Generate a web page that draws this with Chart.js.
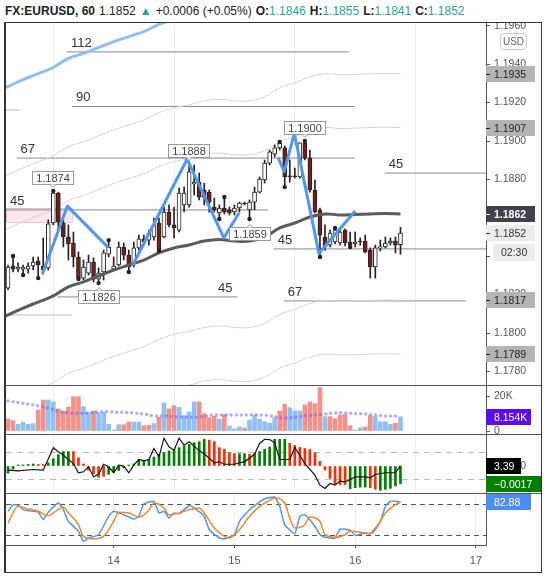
<!DOCTYPE html>
<html>
<head>
<meta charset="utf-8">
<title>FX:EURUSD, 60</title>
<script src="https://cdn.jsdelivr.net/npm/chart.js@4.4.1/dist/chart.umd.min.js"></script>
<style>
  html, body { margin: 0; padding: 0; background: #fff; }
  body { width: 547px; height: 576px; position: relative; overflow: hidden; font-family: "Liberation Sans", Arial, sans-serif; }
  #hdr { position: absolute; left: 5px; top: 3px; font-size: 12px; line-height: 16px; color: #222; white-space: nowrap; }
  #hdr .v { color: #26a69a; }
  #hdr span { margin-left: 4px; }
  #hdr b + span.v, #hdr span.v.n { margin-left: 0; }
  .pane { position: absolute; left: 6px; width: 535px; }
  .sep { position: absolute; left: 5px; width: 537px; height: 1px; background: #555; }
  #frame { position: absolute; left: 4px; top: 22px; width: 538px; height: 551px; box-sizing: border-box; border: 1px solid #333; border-left-width: 2px; pointer-events: none; }
</style>
</head>
<body>
<div id="hdr"></div>
<div class="pane" style="top:22px;height:363px"><canvas id="price"></canvas></div>
<div class="pane" style="top:385px;height:49px"><canvas id="volume"></canvas></div>
<div class="pane" style="top:434px;height:59px"><canvas id="macd"></canvas></div>
<div class="pane" style="top:493px;height:79px"><canvas id="stoch"></canvas></div>
<div class="sep" style="top:385px"></div>
<div class="sep" style="top:434px"></div>
<div class="sep" style="top:493px"></div>
<div id="frame"></div>

<script>
// ── Data ────────────────────────────────────────────────────
// bar index: 0 = 00:00 on the 14th, one bar per hour
const symbol = 'FX:EURUSD';
const interval = '60';
const firstBar = -21;

const opens = [
  1.18234, 1.18349, 1.18333, 1.18333, 1.18333, 1.18349, 1.18375, 1.18349, 1.18339, 1.18573,
  1.18729, 1.18573, 1.18500, 1.18469, 1.18396, 1.18286, 1.18312, 1.18370, 1.18281, 1.18318,
  1.18411, 1.18333, 1.18354, 1.18448, 1.18406, 1.18365, 1.18443, 1.18490, 1.18484, 1.18500,
  1.18573, 1.18500, 1.18630, 1.18563, 1.18536, 1.18667, 1.18667, 1.18776, 1.18786, 1.18745,
  1.18734, 1.18656, 1.18625, 1.18651, 1.18641, 1.18630, 1.18651, 1.18677, 1.18641, 1.18682,
  1.18734, 1.18797, 1.18885, 1.18932, 1.18964, 1.18964, 1.18818, 1.18818, 1.18813, 1.18990,
  1.18911, 1.18745, 1.18641, 1.18500, 1.18458, 1.18474, 1.18469, 1.18536, 1.18474, 1.18464,
  1.18479, 1.18479, 1.18432, 1.18344, 1.18443, 1.18448, 1.18469, 1.18479, 1.18460
];
const highs = [
  1.18354, 1.18401, 1.18365, 1.18354, 1.18365, 1.18396, 1.18396, 1.18495, 1.18589, 1.18740,
  1.18734, 1.18589, 1.18563, 1.18526, 1.18422, 1.18380, 1.18406, 1.18391, 1.18339, 1.18432,
  1.18484, 1.18396, 1.18474, 1.18469, 1.18432, 1.18474, 1.18510, 1.18510, 1.18536, 1.18599,
  1.18599, 1.18656, 1.18667, 1.18656, 1.18755, 1.18760, 1.18885, 1.18875, 1.18833, 1.18781,
  1.18745, 1.18703, 1.18667, 1.18708, 1.18656, 1.18667, 1.18682, 1.18682, 1.18693, 1.18760,
  1.18813, 1.18901, 1.18953, 1.18979, 1.18995, 1.18974, 1.18901, 1.18859, 1.18990, 1.19000,
  1.18953, 1.18797, 1.18651, 1.18563, 1.18536, 1.18547, 1.18547, 1.18542, 1.18526, 1.18526,
  1.18495, 1.18510, 1.18443, 1.18458, 1.18484, 1.18500, 1.18495, 1.18500, 1.18550
];
const lows = [
  1.18224, 1.18318, 1.18318, 1.18302, 1.18312, 1.18328, 1.18286, 1.18307, 1.18328, 1.18563,
  1.18526, 1.18448, 1.18380, 1.18344, 1.18281, 1.18276, 1.18302, 1.18266, 1.18260, 1.18276,
  1.18396, 1.18328, 1.18349, 1.18380, 1.18318, 1.18344, 1.18432, 1.18458, 1.18458, 1.18484,
  1.18427, 1.18495, 1.18552, 1.18495, 1.18526, 1.18630, 1.18656, 1.18719, 1.18693, 1.18667,
  1.18630, 1.18630, 1.18594, 1.18620, 1.18615, 1.18615, 1.18630, 1.18667, 1.18594, 1.18641,
  1.18729, 1.18781, 1.18875, 1.18917, 1.18953, 1.18760, 1.18786, 1.18807, 1.18807, 1.18901,
  1.18734, 1.18625, 1.18396, 1.18432, 1.18448, 1.18464, 1.18458, 1.18453, 1.18448, 1.18448,
  1.18458, 1.18417, 1.18286, 1.18286, 1.18427, 1.18443, 1.18458, 1.18417, 1.18410
];
const closes = [
  1.18344, 1.18333, 1.18344, 1.18344, 1.18349, 1.18370, 1.18354, 1.18328, 1.18568, 1.18729,
  1.18578, 1.18500, 1.18464, 1.18396, 1.18286, 1.18344, 1.18370, 1.18281, 1.18312, 1.18417,
  1.18448, 1.18349, 1.18448, 1.18406, 1.18344, 1.18443, 1.18490, 1.18474, 1.18521, 1.18563,
  1.18432, 1.18630, 1.18563, 1.18547, 1.18729, 1.18729, 1.18839, 1.18786, 1.18708, 1.18708,
  1.18682, 1.18641, 1.18651, 1.18630, 1.18625, 1.18651, 1.18677, 1.18672, 1.18682, 1.18734,
  1.18802, 1.18885, 1.18943, 1.18964, 1.18990, 1.18813, 1.18813, 1.18813, 1.18990, 1.18911,
  1.18745, 1.18630, 1.18510, 1.18448, 1.18521, 1.18536, 1.18526, 1.18469, 1.18458, 1.18474,
  1.18474, 1.18422, 1.18344, 1.18443, 1.18448, 1.18469, 1.18479, 1.18458, 1.18520
];

const volumes = [
  6860, 5900, 3800, 5100, 3800, 4200, 12000, 17700, 17700, 16600,
  12600, 11400, 13700, 19600, 19600, 13900, 10500, 11400, 10500, 10500,
  3800, 600, 3600, 3600, 5100, 5100, 5100, 2900, 3200, 4200,
  7800, 16000, 12600, 14500, 13500, 8800, 10900, 16600, 16600, 9900,
  7600, 8400, 6700, 9300, 2900, 1300, 2300, 1700, 6300, 9000,
  6700, 5300, 4500, 7600, 11400, 15200, 13300, 11400, 11400, 14900,
  16600, 15600, 24800, 8200, 8200, 7000, 9100, 9300, 3000, 600,
  1900, 2300, 8800, 8200, 5300, 5300, 3800, 4400, 8154
];
const volUp = [
  0, 0, 1, 1, 1, 1, 0, 0, 1, 1,
  0, 0, 0, 0, 0, 1, 1, 0, 1, 1,
  1, 1, 1, 0, 0, 1, 1, 0, 0, 1,
  0, 1, 0, 0, 1, 1, 1, 1, 0, 0,
  0, 0, 1, 0, 1, 1, 1, 0, 1, 1,
  1, 1, 1, 1, 0, 0, 1, 1, 1, 0,
  0, 0, 0, 1, 0, 0, 0, 0, 0, 1,
  1, 0, 0, 1, 1, 1, 1, 0, 1
];
const volMaIdx = [-21, -17, -15, -13, -11, -9, -5, -3, -1, 4, 6, 8, 10, 13, 17, 20, 24, 30, 34, 38, 42, 44, 46, 50, 54, 57];
const volMaVals = [17100, 15400, 14300, 13100, 11400, 10300, 10300, 10900, 10900, 10300, 9700, 8600, 8600, 8000, 8000, 9100, 9100, 9100, 7400, 8600, 9700, 10300, 10300, 9700, 8600, 8600];

const hist = [
  -0.0007, -0.0003, 0.00003, 0.0001, 0.00015, 0.0002, 0.00015, 0.00015, 0.0003, 0.0007,
  0.0011, 0.0014, 0.0014, 0.0014, 0.0008, 0.0002, -0.0004, -0.00075, -0.0011, -0.001,
  -0.0008, -0.0006, -0.00043, -0.00017, 0.00005, 0.0002, 0.00055, 0.00055, 0.00065, 0.00087,
  0.00113, 0.00129, 0.00146, 0.00162, 0.00178, 0.00194, 0.0021, 0.00226, 0.00236, 0.0026,
  0.0025, 0.00236, 0.00178, 0.00162, 0.0013, 0.0012, 0.0012, 0.0012, 0.00113, 0.0012,
  0.0014, 0.00162, 0.00185, 0.00259, 0.00259, 0.00259, 0.0022, 0.002, 0.0018, 0.0017,
  0.0016, 0.0013, 0.00045, -0.0004, -0.0012, -0.0018, -0.0018, -0.0018, -0.0022, -0.0021,
  -0.00205, -0.00205, -0.0021, -0.00226, -0.00236, -0.00226, -0.00217, -0.00194, -0.0017
];
const histUp = [
  1, 1, 1, 1, 1, 1, 0, 0, 1, 1,
  1, 1, 1, 0, 0, 0, 0, 0, 0, 0,
  1, 1, 1, 1, 1, 1, 1, 1, 1, 1,
  1, 1, 1, 1, 1, 1, 1, 1, 1, 1,
  0, 0, 0, 0, 0, 0, 1, 1, 0, 1,
  1, 1, 1, 1, 1, 1, 0, 0, 0, 0,
  0, 0, 0, 0, 0, 0, 0, 0, 1, 1,
  1, 1, 0, 0, 1, 1, 1, 1, 1
];
const cciIdx = [-21, -19, -16, -14, -12, -11, -10, -8, -7, -6, -5, -4, -3, -2, -1, 0, 1, 2, 3, 4, 5, 6, 7, 8, 9, 10, 11, 12, 13, 14, 15, 16, 17, 18, 20, 21, 22, 24, 25, 26, 28, 29, 30, 31, 32, 33, 35, 36, 37, 38, 40, 41, 42, 43, 44, 45, 46, 47, 48, 50, 51, 52, 54, 56, 57];
const cciVals = [-31, -36, -26, -31, 135, 105, 80, 18, -50, -43, -6, -80, -61, 13, -6, -50, 6, -1, -50, 6, 48, 38, 48, 130, 68, 206, 142, 117, 206, 154, 179, 147, 112, 90, 24, 31, 13, 13, 24, 31, 87, 167, 198, 196, 172, 48, 48, 137, 80, 18, -68, -142, -167, -130, -142, -112, -117, -100, -80, -80, -87, -63, -50, -50, 3.39];

const kIdx = [-21, -20, -19, -18, -17, -15, -14, -13, -11, -10, -9, -7, -6, -5, -3, -1, 0, 2, 4, 5, 6, 8, 9, 10, 11, 12, 13, 15, 16, 18, 19, 21, 22, 24, 25, 27, 29, 30, 32, 33, 34, 36, 37, 38, 40, 41, 42, 44, 45, 47, 48, 50, 51, 53, 54, 55, 56, 57];
const kVals = [65.3, 78, 76.8, 68.4, 66.5, 64, 49.3, 63.4, 81.2, 68.4, 46.2, 27, 7.9, 14.2, 20.5, 55.8, 65.3, 58.8, 50.6, 55.8, 79.3, 84.5, 62.1, 65.3, 52.5, 62.1, 60.7, 76.1, 71.7, 55.8, 30.1, 14.2, 12.8, 20.5, 46.2, 68.4, 83.2, 89.5, 92.7, 74.9, 39.7, 22.4, 55.8, 58.8, 36.6, 20.5, 15.5, 14.2, 31.4, 29, 19.4, 23.8, 22.4, 46.2, 74.9, 84.5, 84.5, 82.88];
const dIdx = [-21, -19, -17, -15, -13, -12, -10, -9, -7, -6, -4, -2, 0, 1, 3, 5, 7, 8, 10, 11, 13, 15, 17, 18, 20, 22, 23, 25, 27, 29, 31, 32, 34, 35, 36, 38, 39, 41, 42, 44, 46, 47, 49, 51, 52, 54, 56, 57];
const dVals = [42.9, 74.9, 69.7, 65.3, 56.9, 62.1, 73.6, 62.1, 39.7, 17.5, 12.8, 17.5, 46.2, 63.4, 62.1, 54.4, 67.3, 81.2, 71.7, 58.8, 62.1, 68.4, 71.7, 62.1, 33.4, 17.5, 14.2, 30.1, 55.8, 74.9, 86.4, 90.8, 81.2, 52.5, 33.4, 39.7, 54.4, 46.2, 20.5, 15.5, 20.5, 27, 25.1, 22.4, 30.1, 62.1, 78, 82.6];

// moving average and its envelope lines, sampled every 3 bars
const envIdx = [-22, -21, -18, -15, -12, -9, -6, -3, 0, 3, 6, 9, 12, 15, 18, 21, 24, 27, 30, 33, 36, 39, 42, 45, 48, 51, 54, 57];
const maLine = [1.18083, 1.18094, 1.18130, 1.18161, 1.18193, 1.18240, 1.18266, 1.18297, 1.18328, 1.18354, 1.18380, 1.18417, 1.18443, 1.18458, 1.18479, 1.18487, 1.18479, 1.18479, 1.18500, 1.18547, 1.18573, 1.18604, 1.18620, 1.18615, 1.18617, 1.18620, 1.18622, 1.18620];
const envUp45 = [1.18533, 1.18544, 1.18580, 1.18611, 1.18643, 1.18690, 1.18716, 1.18747, 1.18778, 1.18804, 1.18830, 1.18867, 1.18893, 1.18908, 1.18929, 1.18937, 1.18929, 1.18929, 1.18950, 1.18997, 1.19023, 1.19054, 1.19070, 1.19065, 1.19067, 1.19070, 1.19072, 1.19070];
const envUp73 = [1.18813, 1.18824, 1.18860, 1.18891, 1.18923, 1.18970, 1.18996, 1.19027, 1.19058, 1.19084, 1.19110, 1.19147, 1.19173, 1.19188, 1.19209, 1.19217, 1.19209, 1.19209, 1.19230, 1.19277, 1.19303, 1.19334, 1.19350, 1.19345, 1.19347, 1.19350, 1.19352, 1.19350];
const envUp119 = [1.19273, 1.19284, 1.19320, 1.19351, 1.19383, 1.19430, 1.19456, 1.19487, 1.19518, 1.19544, 1.19570, 1.19607, 1.19633, 1.19648, 1.19669, 1.19677, 1.19669, 1.19669, 1.19690, 1.19737, 1.19763, 1.19794, 1.19810, 1.19805, 1.19807, 1.19810, 1.19812, 1.19810];
const envDn45 = [1.17633, 1.17644, 1.17680, 1.17711, 1.17743, 1.17790, 1.17816, 1.17847, 1.17878, 1.17904, 1.17930, 1.17967, 1.17993, 1.18008, 1.18029, 1.18037, 1.18029, 1.18029, 1.18050, 1.18097, 1.18123, 1.18154, 1.18170, 1.18165, 1.18167, 1.18170, 1.18172, 1.18170];
const envDn73 = [1.17353, 1.17364, 1.17400, 1.17431, 1.17463, 1.17510, 1.17536, 1.17567, 1.17598, 1.17624, 1.17650, 1.17687, 1.17713, 1.17728, 1.17749, 1.17757, 1.17749, 1.17749, 1.17770, 1.17817, 1.17843, 1.17874, 1.17890, 1.17885, 1.17887, 1.17890, 1.17892, 1.17890];

// drawings
const zigzags = [
  [[-14.2, 1.18306], [-9.2, 1.18661], [-1.1, 1.18446]],
  [[3.8, 1.18354], [14.6, 1.18906], [21.9, 1.18495], [24.9, 1.18625]],
  [[32.7, 1.18913], [33.9, 1.18840], [35.9, 1.19040], [40.8, 1.18415], [48.0, 1.18635]]
];
const pivotHighs = [-20, -12, -1, 22, 33, 38, 44];
const pivotLows = [-18, -15, -7, -3, 3, 9, 21, 27, 34, 41, 47];
const callouts = [[-12, 1.1874, 'up'], [15, 1.1888, 'up'], [38, 1.1900, 'up'], [27, 1.1859, 'down'], [-3, 1.1826, 'down']];
const levels = [
  [-9.3, 46.7, 1.19464, '112'],
  [-8.3, 47.9, 1.19180, '90'],
  [-19.3, 47.9, 1.18911, '67'],
  [-21.4, 30.6, 1.18641, '45'],
  [-11.2, 24.6, 1.18188, '45', 'end'],
  [31.8, 74.0, 1.18438, '45'],
  [33.8, 70.0, 1.18167, '67'],
  [53.9, 74.0, 1.18833, '45'],
  [-21.4, -18.5, 1.19161, ''],
  [-21.4, -8.3, 1.18094, '']
];
const pinkZone = [-21.4, -8.3, 1.18651, 1.18578];
const countdown = '02:30';

// axes
const dayTicks = [0, 24, 48, 72];
const dayLabels = ['14', '15', '16', '17'];
const priceTicks = [1.196, 1.194, 1.192, 1.190, 1.188, 1.186, 1.184, 1.182, 1.180, 1.178];
const volTicks = [0, 20000];
const histTicks = [0];
const cciLevels = [100, -100];
const stochLevels = [80, 20];

const X_MIN = -21.4, X_MAX = 74.0;
const FONT = '"Liberation Sans", Arial, sans-serif';

// ── Helpers ─────────────────────────────────────────────────
const bars = opens.map((_, i) => firstBar + i);
const last = closes.length - 1;
const pts = (idx, vals) => idx.map((x, i) => ({ x, y: vals[i] }));
const f4 = v => v.toFixed(4);

Chart.defaults.font.family = FONT;
Chart.defaults.color = '#555';
Chart.defaults.animation = false;
Chart.defaults.events = [];
Chart.defaults.plugins.legend.display = false;
Chart.defaults.plugins.tooltip.enabled = false;

// no label padding: panes butt against each other like the original
function noPad(s) { s.paddingTop = 0; s.paddingBottom = 0; s.paddingLeft = 0; s.paddingRight = 0; }

function xAxis(showLabels) {
  return {
    type: 'linear', min: X_MIN, max: X_MAX, offset: false,
    afterBuildTicks: s => { s.ticks = dayTicks.map(v => ({ value: v })); },
    afterFit: s => { s.height = showLabels ? 27 : 0; noPad(s); },
    grid: { color: '#ececec', drawTicks: showLabels, tickLength: 3, tickColor: '#555' },
    border: { display: showLabels, color: '#555' },
    ticks: {
      display: showLabels, padding: 6, color: '#555', font: { size: 11 },
      maxRotation: 0, autoSkip: false, callback: (v, i) => dayLabels[i]
    }
  };
}

function yAxis(min, max, ticks, fmt, showTicks = true) {
  return {
    type: 'linear', position: 'right', min, max,
    afterBuildTicks: s => { s.ticks = ticks.map(v => ({ value: v })); },
    afterFit: s => { s.width = 55; noPad(s); },
    grid: { drawOnChartArea: false, drawTicks: showTicks, tickLength: 4, color: '#555' },
    border: { color: '#555' },
    ticks: { display: showTicks, padding: 4, color: '#555', font: { size: 10.5 }, autoSkip: false, callback: fmt }
  };
}

function options(scales) {
  return { responsive: true, maintainAspectRatio: false, layout: { padding: 0, autoPadding: false }, scales };
}

function badge(ctx, left, y, w, text, bg, fg, bold, tick, h = 16) {
  const yc = Math.round(y);
  ctx.fillStyle = bg;
  ctx.fillRect(left, yc - Math.floor(h / 2), w, h);
  if (tick) {
    ctx.strokeStyle = fg; ctx.lineWidth = 1;
    ctx.beginPath(); ctx.moveTo(left, yc + 0.5); ctx.lineTo(left + 4, yc + 0.5); ctx.stroke();
  }
  ctx.fillStyle = fg;
  ctx.font = (bold ? 'bold ' : '') + '10.5px ' + FONT;
  ctx.textAlign = 'left'; ctx.textBaseline = 'middle';
  ctx.fillText(text, left + 8, yc + 1);
}

function hLines(chart, axisId, values, color, dash) {
  const { ctx, chartArea: a } = chart;
  const s = chart.scales[axisId];
  ctx.save();
  ctx.strokeStyle = color; ctx.lineWidth = 1; ctx.setLineDash(dash);
  values.forEach(v => {
    const y = Math.round(s.getPixelForValue(v)) + 0.5;
    ctx.beginPath(); ctx.moveTo(a.left, y); ctx.lineTo(a.right, y); ctx.stroke();
  });
  ctx.restore();
}

// ── Header ──────────────────────────────────────────────────
const chg = closes[last] - closes[last - 1];
document.getElementById('hdr').innerHTML =
  `<b>${symbol}, ${interval}</b><span>${f4(closes[last])}</span>` +
  `<span class="v">\u25B2</span><span>+${f4(chg)} (+${(chg / closes[last - 1] * 100).toFixed(2)}%)</span>` +
  `<span><b>O:</b><span class="v n">${f4(opens[last])}</span></span>` +
  `<span><b>H:</b><span class="v n">${f4(highs[last])}</span></span>` +
  `<span><b>L:</b><span class="v n">${f4(lows[last])}</span></span>` +
  `<span><b>C:</b><span class="v n">${f4(closes[last])}</span></span>`;

// ── Price pane ──────────────────────────────────────────────
const priceExtras = {
  id: 'priceExtras',
  beforeDatasetsDraw(chart) {
    const { ctx, chartArea: a, scales: { x, y } } = chart;
    ctx.save();
    ctx.beginPath(); ctx.rect(a.left, a.top, a.width, a.height); ctx.clip();
    const zx0 = x.getPixelForValue(pinkZone[0]), zx1 = x.getPixelForValue(pinkZone[1]);
    const zy0 = y.getPixelForValue(pinkZone[2]), zy1 = y.getPixelForValue(pinkZone[3]);
    ctx.fillStyle = 'rgba(244,143,177,0.22)';
    ctx.fillRect(zx0, zy0, zx1 - zx0, zy1 - zy0);
    ctx.strokeStyle = 'rgba(200,150,165,0.5)';
    ctx.strokeRect(zx0 + 0.5, zy0 + 0.5, zx1 - zx0, zy1 - zy0);
    ctx.restore();
  },
  afterDatasetsDraw(chart) {
    const { ctx, scales: { x, y } } = chart;
    ctx.save();
    // level labels
    ctx.font = '13px ' + FONT;
    ctx.fillStyle = '#333';
    ctx.textBaseline = 'alphabetic';
    levels.forEach(([from, to, price, text, anchor]) => {
      if (!text) return;
      const py = y.getPixelForValue(price) - 5;
      if (anchor === 'end') { ctx.textAlign = 'right'; ctx.fillText(text, x.getPixelForValue(to) - 5, py); }
      else { ctx.textAlign = 'left'; ctx.fillText(text, x.getPixelForValue(from) + 4, py); }
    });
    // high / low callouts
    ctx.font = '11px ' + FONT;
    callouts.forEach(([bar, price, dir]) => {
      const text = f4(price);
      const px = Math.round(x.getPixelForValue(bar)), py = y.getPixelForValue(price);
      const w = Math.round(ctx.measureText(text).width) + 8, h = 14;
      const top = Math.round(dir === 'up' ? py - 6 - h : py + 7);
      const left = px - Math.round(w / 2);
      ctx.fillStyle = '#fff'; ctx.strokeStyle = '#999'; ctx.lineWidth = 1;
      ctx.fillRect(left, top, w, h);
      ctx.strokeRect(left + 0.5, top + 0.5, w - 1, h - 1);
      const edge = dir === 'up' ? top + h - 0.5 : top + 0.5;
      const tip = dir === 'up' ? edge + 3 : edge - 3;
      ctx.beginPath(); ctx.moveTo(px - 3, edge); ctx.lineTo(px, tip); ctx.lineTo(px + 3, edge);
      ctx.fill(); ctx.stroke();
      ctx.fillStyle = '#444'; ctx.textAlign = 'center'; ctx.textBaseline = 'middle';
      ctx.fillText(text, px, top + h / 2 + 1);
    });
    ctx.restore();
  },
  afterDraw(chart) {
    const { ctx, chartArea: a, scales: { y } } = chart;
    const L = a.right;
    ctx.save();
    [envUp73, envUp45, envDn45, envDn73].forEach(arr => {
      const v = arr[arr.length - 1];
      badge(ctx, L, y.getPixelForValue(v), 49, f4(v), '#b4b4b4', '#222', false, true);
    });
    const cy = y.getPixelForValue(closes[last]);
    badge(ctx, L, cy, 49, f4(closes[last]), '#ececec', '#333', false, true);
    badge(ctx, L + 7, cy + 19, 42, countdown, '#ececec', '#333', false, false, 17);
    const ma = maLine[maLine.length - 1];
    badge(ctx, L, y.getPixelForValue(ma), 49, f4(ma), '#3f424e', '#fff', true, true);
    // currency button
    ctx.fillStyle = '#fff'; ctx.strokeStyle = '#c8c8c8'; ctx.lineWidth = 1;
    ctx.beginPath(); ctx.roundRect(L + 14.5, 11.5, 26, 16, 3); ctx.fill(); ctx.stroke();
    ctx.fillStyle = '#666'; ctx.font = '10px ' + FONT; ctx.textAlign = 'center'; ctx.textBaseline = 'middle';
    ctx.fillText('USD', L + 27.5, 20);
    ctx.restore();
  }
};

const lineSet = (data, color, width, order, extra = {}) =>
  Object.assign({ type: 'line', data, borderColor: color, borderWidth: width, pointRadius: 0, order }, extra);

new Chart(document.getElementById('price'), {
  type: 'bar',
  data: {
    datasets: [
      ...zigzags.map(z => lineSet(z.map(([x, y]) => ({ x, y })), '#4f97f0', 3, 1, { borderJoinStyle: 'round' })),
      {
        type: 'line', showLine: false, order: 2,
        data: [...pivotHighs.map(b => ({ x: b, y: highs[b - firstBar] })), ...pivotLows.map(b => ({ x: b, y: lows[b - firstBar] }))],
        pointRadius: 2.2, pointBackgroundColor: '#222', pointBorderWidth: 0
      },
      lineSet(pts(envIdx, maLine), '#5b5b5b', 3, 3, { tension: 0.4 }),
      {
        type: 'bar', order: 4, grouped: false, barThickness: 4, minBarLength: 1,
        data: bars.map((x, i) => ({ x, y: [opens[i], closes[i]] })),
        backgroundColor: bars.map((_, i) => closes[i] >= opens[i] ? '#ffffff' : '#7a1d17'),
        borderColor: '#222', borderWidth: 1, borderSkipped: false
      },
      {
        type: 'bar', order: 5, grouped: false, barThickness: 1,
        data: bars.map((x, i) => ({ x, y: [lows[i], highs[i]] })),
        backgroundColor: '#222'
      },
      lineSet(pts(envIdx, envUp119), '#90bdf6', 3, 6, { tension: 0.4 }),
      lineSet(pts(envIdx, envUp73), '#d6d6d6', 1, 6, { tension: 0.4 }),
      lineSet(pts(envIdx, envUp45), '#d6d6d6', 1, 6, { tension: 0.4 }),
      lineSet(pts(envIdx, envDn45), '#d6d6d6', 1, 6, { tension: 0.4 }),
      lineSet(pts(envIdx, envDn73), '#d6d6d6', 1, 6, { tension: 0.4 }),
      ...levels.map(([from, to, price, text]) =>
        lineSet([{ x: from, y: price }, { x: to, y: price }], text ? '#8a8a8a' : '#c6b9bf', 1, 7))
    ]
  },
  options: options({
    x: xAxis(false),
    y: yAxis(1.177292, 1.196198, priceTicks, v => f4(v))
  }),
  plugins: [priceExtras]
});

// ── Volume pane ─────────────────────────────────────────────
new Chart(document.getElementById('volume'), {
  type: 'bar',
  data: {
    datasets: [
      lineSet(pts(volMaIdx, volMaVals), 'rgba(112,92,240,0.5)', 3.5, 1,
        { borderDash: [0, 5], borderCapStyle: 'round', tension: 0.4 }),
      {
        type: 'bar', order: 2, grouped: false, barThickness: 4,
        data: bars.map((x, i) => ({ x, y: volumes[i] })),
        backgroundColor: volUp.map(u => u ? '#91c0f5' : '#f3928b')
      }
    ]
  },
  options: options({
    x: xAxis(false),
    y: yAxis(-1714, 26286, volTicks, v => v === 0 ? '0' : v / 1000 + 'K')
  }),
  plugins: [{
    id: 'volBadge',
    afterDraw(chart) {
      const { ctx, chartArea: a, scales: { y } } = chart;
      const v = volumes[last];
      badge(ctx, a.right, y.getPixelForValue(v), 45, (v / 1000).toFixed(3) + 'K', '#5b0cf5', '#fff', false, false);
    }
  }]
});

// ── MACD histogram + CCI pane ───────────────────────────────
new Chart(document.getElementById('macd'), {
  type: 'bar',
  data: {
    datasets: [
      lineSet(pts(cciIdx, cciVals), '#111', 1.2, 1, { yAxisID: 'cci' }),
      {
        type: 'bar', order: 2, grouped: false, barThickness: 2, minBarLength: 1,
        data: bars.map((x, i) => ({ x, y: hist[i] })),
        backgroundColor: histUp.map(u => u ? '#008000' : '#ff2a00')
      }
    ]
  },
  options: options({
    x: xAxis(false),
    y: yAxis(-0.002621, 0.003107, histTicks, v => f4(v)),
    cci: { type: 'linear', display: false, min: -200, max: 237 }
  }),
  plugins: [{
    id: 'macdExtras',
    beforeDatasetsDraw(chart) { hLines(chart, 'cci', cciLevels, '#bdbdbd', [6, 5]); },
    afterDraw(chart) {
      const { ctx, chartArea: a, scales } = chart;
      const c = cciVals[cciVals.length - 1], h = hist[last];
      badge(ctx, a.right, scales.cci.getPixelForValue(c), 35, c.toFixed(2), '#000', '#fff', false, false);
      badge(ctx, a.right, scales.y.getPixelForValue(h), 55, '\u2212' + f4(Math.abs(h)), '#008000', '#fff', false, false);
    }
  }]
});

// ── Stochastic pane + time axis ─────────────────────────────
new Chart(document.getElementById('stoch'), {
  type: 'line',
  data: {
    datasets: [
      lineSet(pts(dIdx, dVals), '#f5861f', 1.5, 1, { cubicInterpolationMode: 'monotone' }),
      lineSet(pts(kIdx, kVals), '#4c96f7', 1.5, 2, { tension: 0.15 })
    ]
  },
  options: options({
    x: xAxis(true),
    y: yAxis(0.8, 100.4, [], v => '', false)
  }),
  plugins: [{
    id: 'stochExtras',
    beforeDatasetsDraw(chart) { hLines(chart, 'y', stochLevels, '#555', [5, 4]); },
    afterDraw(chart) {
      const { ctx, chartArea: a, scales: { y } } = chart;
      const d = dVals[dVals.length - 1], k = kVals[kVals.length - 1];
      badge(ctx, a.right, y.getPixelForValue(d) - 1, 45, d.toFixed(2), '#f5861f', '#fff', false, false);
      badge(ctx, a.right, y.getPixelForValue(k), 45, k.toFixed(2), '#4a8ef4', '#fff', false, false);
    }
  }]
});
</script>
</body>
</html>
